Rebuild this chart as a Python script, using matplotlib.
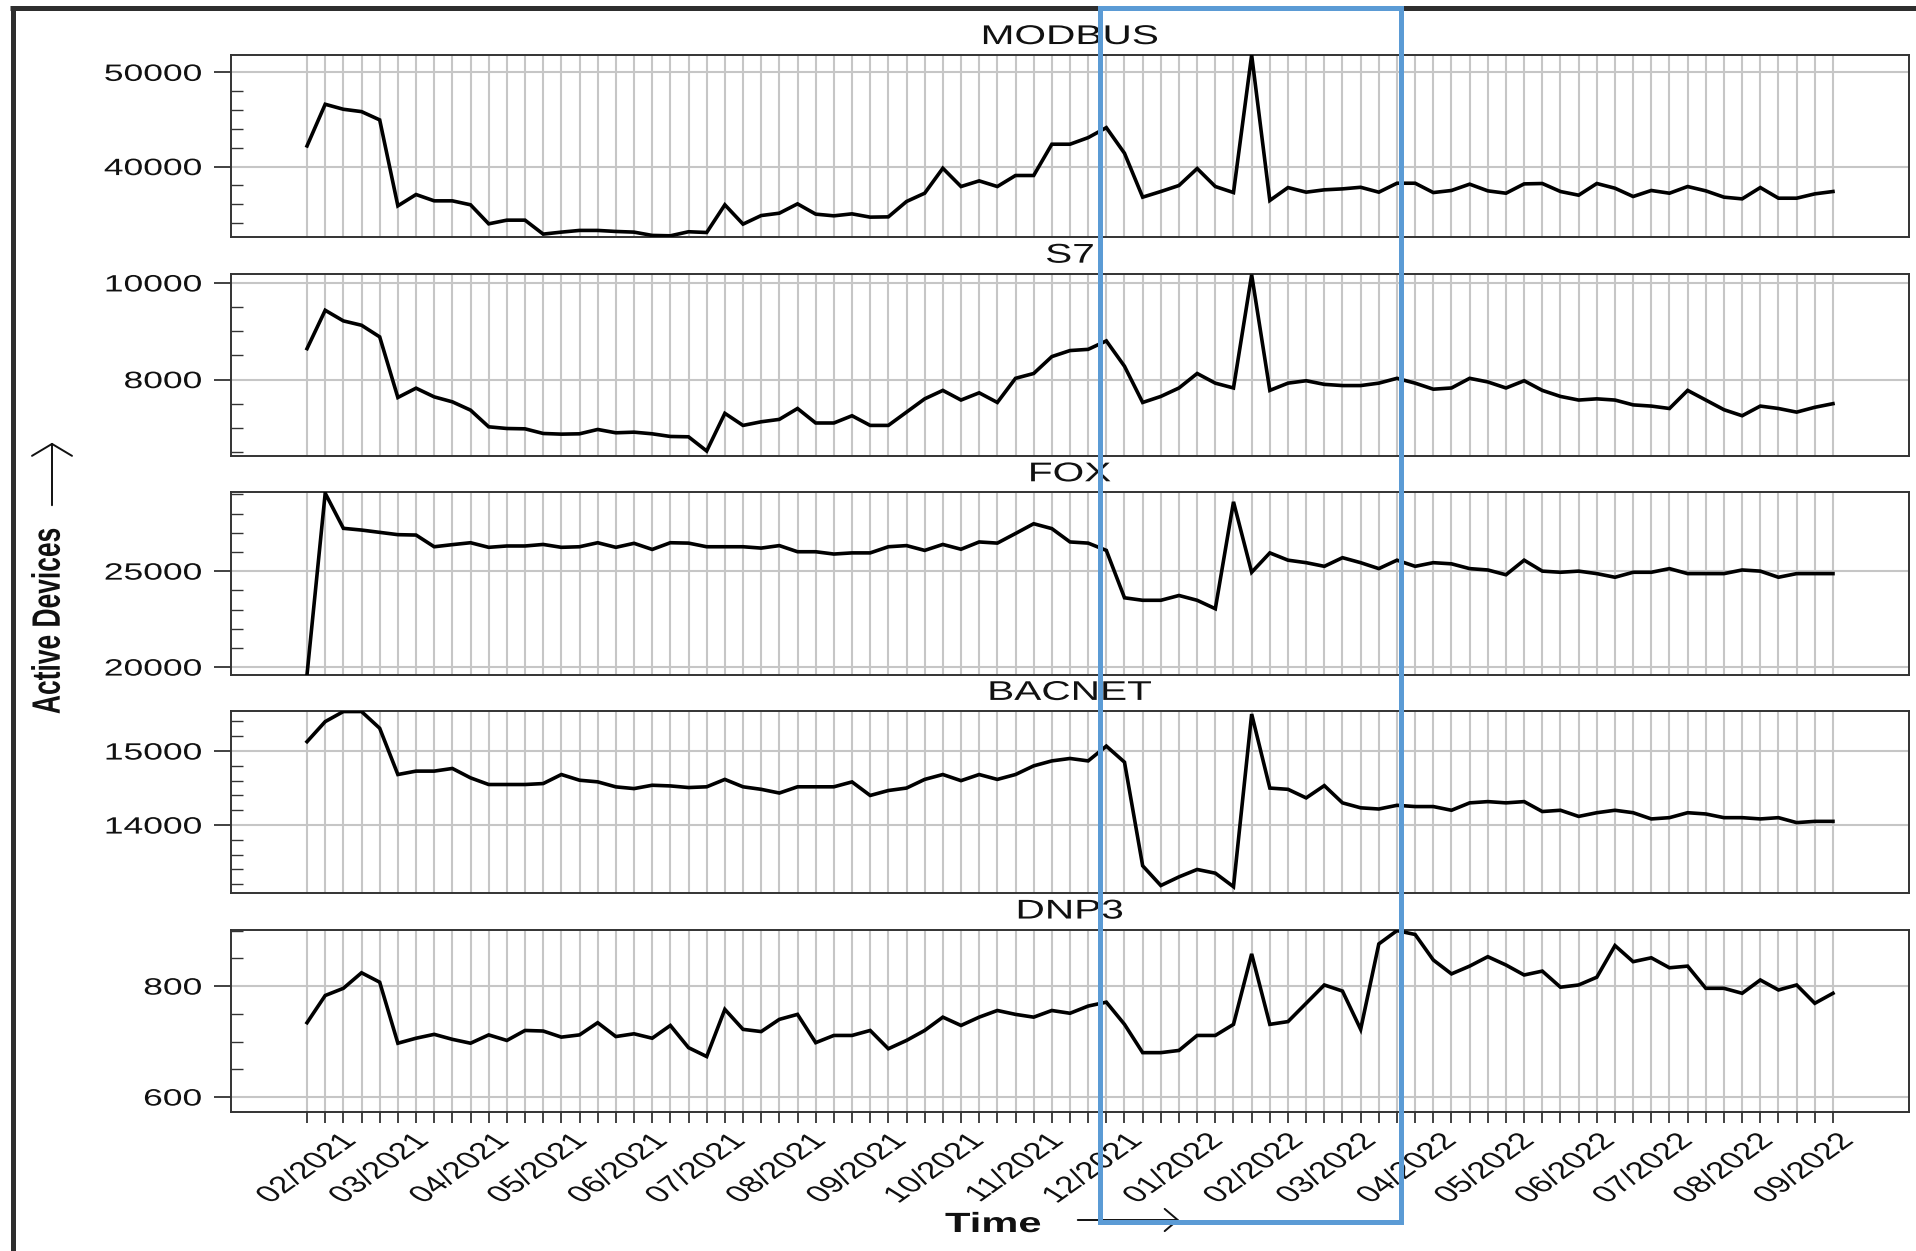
import numpy as np
import pandas as pd
import matplotlib
matplotlib.use("Agg")
import matplotlib.pyplot as plt
import matplotlib.dates as mdates
import matplotlib.ticker as mticker
from matplotlib import patheffects as pe
from matplotlib.transforms import Affine2D
from matplotlib.patches import Rectangle, FancyArrowPatch, ArrowStyle
from matplotlib.lines import Line2D

plt.rcParams['font.family'] = ['Liberation Sans', 'DejaVu Sans']

# ---------------- data ----------------
start_date = '2021-02-01'
n_weeks = 85
month_label_first = '2021-02-01'
month_label_last = '2022-09-01'
protocols = ['MODBUS', 'S7', 'FOX', 'BACNET', 'DNP3']

modbus = [42190, 46610, 46080, 45830, 44950, 35830, 37030, 36360, 36360, 35940,
          33920, 34310, 34310, 32830, 33040, 33220, 33220, 33110, 33040, 32690,
          32650, 33080, 33000, 35940, 33890, 34800, 35050, 36040, 34950, 34770,
          34980, 34630, 34660, 36290, 37170, 39820, 37880, 38480, 37880, 39050,
          39050, 42370, 42370, 43070, 44130, 41410, 36750, 37350, 37990, 39790,
          37880, 37240, 51840, 36400, 37770, 37280, 37530, 37630, 37800, 37280,
          38230, 38230, 37240, 37460, 38130, 37420, 37170, 38160, 38200, 37350,
          36960, 38200, 37700, 36820, 37460, 37170, 37880, 37420, 36750, 36570,
          37770, 36640, 36640, 37100, 37350]

s7 = [8640, 9434, 9214, 9124, 8883, 7628, 7821, 7641, 7538, 7366,
      7021, 6986, 6979, 6883, 6869, 6876, 6966, 6897, 6910, 6876,
      6821, 6814, 6520, 7300, 7050, 7125, 7175, 7400, 7100, 7100,
      7250, 7050, 7050, 7325, 7600, 7775, 7575, 7725, 7525, 8025,
      8125, 8475, 8600, 8625, 8800, 8275, 7525, 7650, 7825, 8125,
      7925, 7825, 10170, 7775, 7925, 7975, 7900, 7875, 7875, 7925,
      8025, 7925, 7800, 7825, 8025, 7950, 7825, 7975, 7775, 7650,
      7575, 7600, 7575, 7475, 7450, 7400, 7775, 7575, 7375, 7250,
      7450, 7400, 7325, 7425, 7500]

fox = [19620, 29060, 27230, 27140, 27020, 26900, 26880, 26270, 26380, 26480,
       26240, 26310, 26310, 26390, 26240, 26270, 26480, 26240, 26450, 26130,
       26480, 26460, 26270, 26270, 26270, 26200, 26330, 26010, 26010, 25890,
       25950, 25950, 26270, 26330, 26080, 26390, 26140, 26520, 26460, 26960,
       27470, 27215, 26520, 26460, 26080, 23610, 23480, 23480, 23730, 23480,
       23040, 28610, 24940, 25950, 25570, 25440, 25250, 25700, 25440, 25130,
       25570, 25250, 25440, 25380, 25130, 25060, 24810, 25570, 25000, 24940,
       25000, 24870, 24680, 24940, 24940, 25130, 24870, 24870, 24870, 25060,
       25000, 24680, 24870, 24870, 24870]

bacnet = [15127, 15398, 15534, 15534, 15308, 14683, 14729, 14729, 14765, 14638,
          14548, 14548, 14548, 14561, 14683, 14606, 14584, 14516, 14493, 14538,
          14529, 14507, 14517, 14617, 14517, 14483, 14433, 14517, 14517, 14517,
          14583, 14400, 14467, 14500, 14617, 14683, 14600, 14683, 14617, 14683,
          14800, 14867, 14900, 14867, 15067, 14850, 13450, 13183, 13300, 13400,
          13350, 13167, 15500, 14500, 14483, 14367, 14533, 14300, 14233, 14217,
          14267, 14250, 14250, 14200, 14300, 14317, 14300, 14317, 14183, 14200,
          14117, 14167, 14200, 14167, 14083, 14100, 14167, 14150, 14100, 14100,
          14083, 14100, 14033, 14050, 14050]

dnp3 = [734, 783, 796, 824, 807, 697, 706, 713, 704, 697,
        712, 702, 720, 719, 708, 712, 734, 709, 714, 706,
        729, 689, 673, 758, 722, 718, 740, 749, 698, 711,
        711, 720, 687, 702, 720, 744, 729, 744, 756, 749,
        744, 756, 751, 764, 771, 731, 680, 680, 684, 711,
        711, 731, 858, 731, 736, 769, 802, 791, 722, 876,
        900, 893, 847, 822, 836, 853, 838, 820, 827, 798,
        802, 816, 873, 844, 851, 833, 836, 796, 796, 787,
        811, 793, 802, 769, 787]

series = [modbus, s7, fox, bacnet, dnp3]
y_limits = [(32470, 51840), (6414, 10193), (19600, 29110), (13077, 15543), (573, 902)]
y_major_ticks = [[40000, 50000], [8000, 10000], [20000, 25000], [14000, 15000], [600, 800]]
y_minor_steps = [2000, 500, 1000, 200, 50]
x_tick_format = '%m/%Y'
y_axis_label = 'Active Devices'
x_axis_label = 'Time'


# ---------------- helpers ----------------
class HStretch(pe.AbstractPathEffect):
    """Widen rendered glyphs horizontally (the reference image is stretched)."""
    def __init__(self, sx=1.5, anchor='center'):
        super().__init__()
        self.sx = sx
        self.anchor = anchor

    def draw_path(self, renderer, gc, tpath, affine, rgbFace=None):
        ext = tpath.get_extents(affine)
        if self.anchor == 'right':
            x0 = ext.x1
        elif self.anchor == 'left':
            x0 = ext.x0
        else:
            x0 = 0.5 * (ext.x0 + ext.x1)
        aff = affine + Affine2D().translate(-x0, 0).scale(self.sx, 1.0).translate(x0, 0)
        renderer.draw_path(gc, tpath, aff, rgbFace)


SX = 1.5
W, H = 1916, 1251
fig, axes = plt.subplots(5, 1, sharex=True, figsize=(W / 100, H / 100), dpi=100)
fig.subplots_adjust(left=231 / W, right=1909 / W, top=1 - 55 / H, bottom=1 - 1112 / H, hspace=0.198)

dates = pd.date_range(start_date, periods=n_weeks, freq='7D')
xnum = mdates.date2num(dates)
month_starts = mdates.date2num(pd.date_range(month_label_first, month_label_last, freq='MS'))
grid_col = '#c6c6c6'
spine_col = '#333333'

for k, (ax, name, vals, lim, maj, mstep) in enumerate(
        zip(axes, protocols, series, y_limits, y_major_ticks, y_minor_steps)):
    ax.plot(xnum, vals, color='black', lw=2.6, solid_joinstyle='miter', zorder=3)
    ax.set_ylim(*lim)
    ax.set_xlim(xnum[0] - 29.3, xnum[-1] + 29.3)
    ax.yaxis.set_major_locator(mticker.FixedLocator(maj))
    ax.yaxis.set_minor_locator(mticker.MultipleLocator(mstep))
    ax.yaxis.set_major_formatter(mticker.FormatStrFormatter('%d'))
    ax.xaxis.set_major_locator(mticker.FixedLocator(xnum))
    ax.xaxis.set_major_formatter(mticker.NullFormatter())
    ax.xaxis.set_minor_locator(mticker.FixedLocator(month_starts))
    ax.xaxis.set_minor_formatter(mdates.DateFormatter(x_tick_format))
    ax.xaxis.remove_overlapping_locs = False
    ax.grid(True, axis='x', which='major', color=grid_col, lw=1.5)
    ax.grid(True, axis='y', which='major', color=grid_col, lw=1.5)
    ax.set_axisbelow(True)
    for sp in ax.spines.values():
        sp.set_color(spine_col)
        sp.set_linewidth(1.4)
    ax.tick_params(axis='y', which='major', direction='out', length=12.5, width=1.3,
                   color=spine_col, labelsize=17, pad=8.5, labelcolor='#111111')
    ax.tick_params(axis='y', which='minor', direction='in', length=8.6, width=1.0, color=spine_col)
    if k < 4:
        ax.tick_params(axis='x', which='both', length=0, labelbottom=False)
    else:
        ax.tick_params(axis='x', which='major', direction='out', length=7.9, width=1.3, color=spine_col)
        ax.tick_params(axis='x', which='minor', length=0, labelsize=17, labelrotation=47, pad=13,
                       labelcolor='#111111')
    ax.set_title(name, fontsize=19.5, pad=7.9, color='#111111')

# axis labels
ylab = fig.text(48 / W, 1 - 621 / H, y_axis_label, rotation=90, ha='center', va='center',
                fontsize=19, fontweight='bold', color='#111111')
xlab = fig.text(993 / W, 1 - 1232 / H, x_axis_label, ha='center', va='baseline',
                fontsize=20, fontweight='bold', color='#111111')
fig.add_artist(FancyArrowPatch(
    (52 / W, 1 - 508 / H), (52 / W, 1 - 440 / H), transform=fig.transFigure,
    arrowstyle=ArrowStyle('->', head_length=0.86, head_width=1.44),
    mutation_scale=10, lw=1.4, color='#111111'))
fig.add_artist(FancyArrowPatch(
    (1075 / W, 1 - 1220 / H), (1182 / W, 1 - 1220 / H), transform=fig.transFigure,
    arrowstyle=ArrowStyle('->', head_length=0.94, head_width=0.8),
    mutation_scale=10, lw=1.4, color='#111111'))

# outer frame (top + left) of the screenshot
fig.add_artist(Line2D([12.5 / W, 12.5 / W], [0, 1 - 7.5 / H], transform=fig.transFigure,
                      color='#2e2e2e', lw=3.6, solid_capstyle='butt'))
fig.add_artist(Line2D([10 / W, 1], [1 - 7.5 / H, 1 - 7.5 / H], transform=fig.transFigure,
                      color='#2e2e2e', lw=3.6, solid_capstyle='butt'))
# highlight box
fig.add_artist(Rectangle((1099.5 / W, 1 - 1222 / H), 301 / W, 1214.5 / H, transform=fig.transFigure,
                         fill=False, edgecolor='#5b9bd5', lw=3.6, zorder=10))

# apply horizontal stretch to all texts
fig.canvas.draw()
for ax in axes:
    for t in ax.get_yticklabels():
        t.set_path_effects([HStretch(SX, 'right')])
    for t in ax.get_xticklabels(minor=True):
        t.set_path_effects([HStretch(SX, 'center')])
    ax.title.set_path_effects([HStretch(SX, 'center')])
ylab.set_path_effects([HStretch(SX, 'center')])
xlab.set_path_effects([HStretch(SX, 'center')])

fig.savefig('out.png', dpi=100)
